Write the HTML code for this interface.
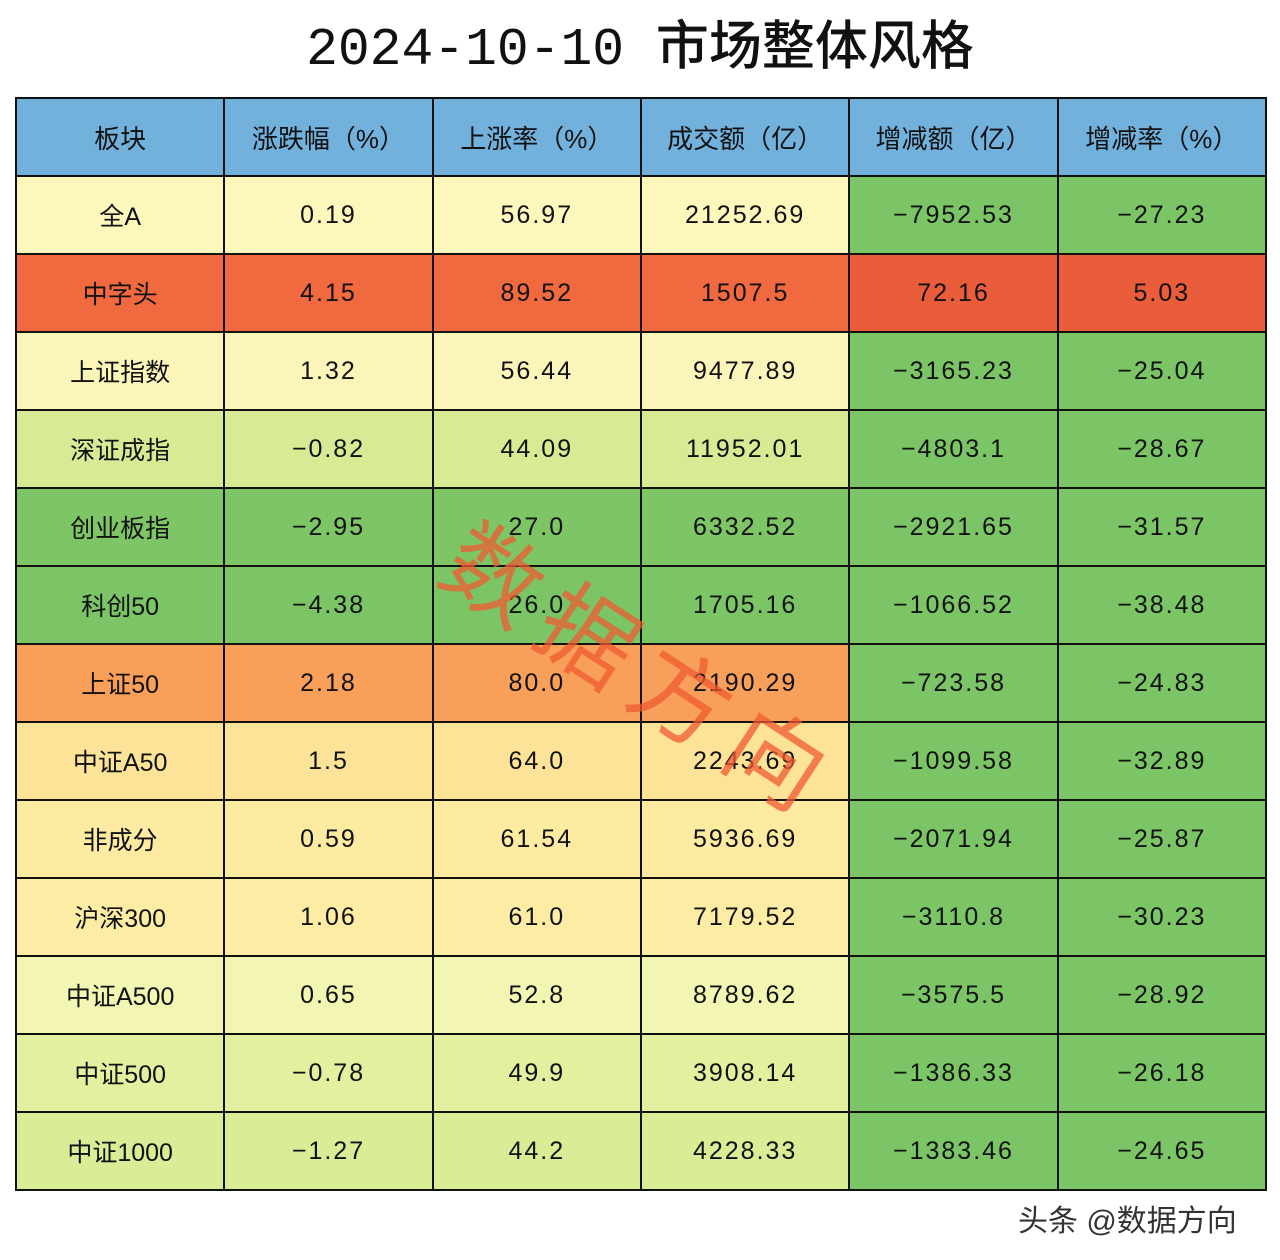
<!DOCTYPE html>
<html><head><meta charset="utf-8"><style>
body{margin:0;width:1280px;height:1260px;background:#fff;position:relative;overflow:hidden;font-family:"Liberation Sans","Noto Sans CJK SC",sans-serif;}
#title{position:absolute;top:4px;left:0;width:1280px;text-align:center;font-size:53px;color:#111;font-family:"Liberation Mono","Noto Sans CJK SC",monospace;font-weight:500;}
table{position:absolute;left:15px;top:97px;border-collapse:collapse;table-layout:fixed;width:1252px;}
td{border:2px solid #111;height:76px;padding:0;text-align:center;font-size:25px;color:#111;letter-spacing:2px;}
th{border:2px solid #111;height:76px;padding:0;background:#72b1dc;font-weight:normal;font-size:26px;color:#111;}
#wm{position:absolute;left:495px;top:485px;font-size:96px;color:rgba(240,90,50,0.75);transform:rotate(33deg);transform-origin:0 0;letter-spacing:16px;white-space:nowrap;pointer-events:none;font-family:"Noto Sans CJK SC",sans-serif;}
#foot{position:absolute;left:1018px;top:1196px;font-size:30px;color:#333;}
</style></head><body>
<div id="title">2024-10-10 市场整体风格</div>
<table id="tbl"></table>
<div id="wm">数据方向</div>
<div id="foot">头条 @数据方向</div>
<script>
const headers=["板块","涨跌幅（%）","上涨率（%）","成交额（亿）","增减额（亿）","增减率（%）"];
const names=["全A","中字头","上证指数","深证成指","创业板指","科创50","上证50","中证A50","非成分","沪深300","中证A500","中证500","中证1000"];
const change=["0.19","4.15","1.32","-0.82","-2.95","-4.38","2.18","1.5","0.59","1.06","0.65","-0.78","-1.27"];
const upRate=["56.97","89.52","56.44","44.09","27.0","26.0","80.0","64.0","61.54","61.0","52.8","49.9","44.2"];
const volume=["21252.69","1507.5","9477.89","11952.01","6332.52","1705.16","2190.29","2243.69","5936.69","7179.52","8789.62","3908.14","4228.33"];
const delta=["-7952.53","72.16","-3165.23","-4803.1","-2921.65","-1066.52","-723.58","-1099.58","-2071.94","-3110.8","-3575.5","-1386.33","-1383.46"];
const deltaRate=["-27.23","5.03","-25.04","-28.67","-31.57","-38.48","-24.83","-32.89","-25.87","-30.23","-28.92","-26.18","-24.65"];
const rowColors=["#fdf7bb","#f0693f","#fcf5b9","#d8eb94","#7ec566","#7bc566","#f8a05a","#fde397","#fdeba2","#fdeca3","#f3f6b3","#e3f0a0","#d9ec96"];
const tbl=document.getElementById('tbl');
const hr=document.createElement('tr');


headers.forEach(h=>{const th=document.createElement('th');th.textContent=h;


hr.appendChild(th);});
tbl.appendChild(hr);
names.forEach((n,i)=>{
 const tr=document.createElement('tr');
 
 
 const vals=[n,change[i],upRate[i],volume[i],delta[i],deltaRate[i]];
 vals.forEach((v,j)=>{
  const td=document.createElement('td');td.textContent=v.replace('-','−');
  let c=rowColors[i];
  if(j>=4){c=parseFloat(v)>0?'#ea5d3b':'#7bc566';}
  td.style.background=c;
  if(j==0)td.style.letterSpacing='0';
  
  
  tr.appendChild(td);
 });
 tbl.appendChild(tr);
});
</script>
</body></html>
